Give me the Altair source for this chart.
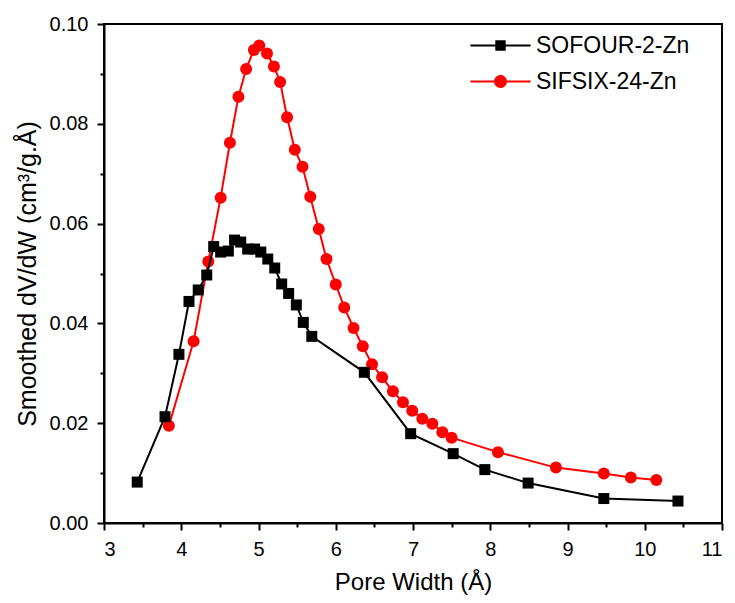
import math
import altair as alt
import pandas as pd

# ---- data ----
series_names = ["SOFOUR-2-Zn", "SIFSIX-24-Zn"]
series_colors = ["#000000", "#ff0000"]

sofour_x = [3.43, 3.79, 3.97, 4.10, 4.22, 4.33, 4.42, 4.51, 4.61, 4.69, 4.77, 4.86,
            4.95, 5.03, 5.12, 5.21, 5.30, 5.39, 5.49, 5.58, 5.69, 6.37, 6.97, 7.52,
            7.93, 8.49, 9.47, 10.43]
sofour_y = [0.0082, 0.0213, 0.0338, 0.0444, 0.0467, 0.0497, 0.0554, 0.0543, 0.0545,
            0.0567, 0.0563, 0.0549, 0.0549, 0.0543, 0.0529, 0.0511, 0.0479, 0.0460,
            0.0437, 0.0402, 0.0374, 0.0302, 0.0179, 0.0139, 0.0107, 0.0080, 0.0049,
            0.0044]

sifsix_x = [3.84, 4.16, 4.35, 4.51, 4.63, 4.74, 4.84, 4.94, 5.01, 5.11, 5.20, 5.28,
            5.37, 5.47, 5.57, 5.67, 5.78, 5.88, 6.00, 6.11, 6.23, 6.35, 6.47, 6.60,
            6.74, 6.87, 6.99, 7.12, 7.25, 7.38, 7.50, 8.10, 8.85, 9.47, 9.82, 10.15]
sifsix_y = [0.0195, 0.0364, 0.0524, 0.0652, 0.0762, 0.0854, 0.0910, 0.0948, 0.0957,
            0.0941, 0.0915, 0.0884, 0.0813, 0.0748, 0.0714, 0.0654, 0.0589, 0.0529,
            0.0478, 0.0432, 0.0391, 0.0354, 0.0318, 0.0292, 0.0264, 0.0242, 0.0225,
            0.0209, 0.0199, 0.0182, 0.0171, 0.0142, 0.0111, 0.0099, 0.0091, 0.0086]

x_ticks = [3.0, 3.5, 4.0, 4.5, 5.0, 5.5, 6.0, 6.5, 7.0, 7.5, 8.0, 8.5, 9.0, 9.5, 10.0, 10.5, 11.0]
y_ticks = [0.0, 0.01, 0.02, 0.03, 0.04, 0.05, 0.06, 0.07, 0.08, 0.09, 0.10]

FONT = "Liberation Sans"

df_black = pd.DataFrame({"x": sofour_x, "y": sofour_y, "series": series_names[0],
                         "i": range(len(sofour_x))})
df_red = pd.DataFrame({"x": sifsix_x, "y": sifsix_y, "series": series_names[1],
                       "i": range(len(sifsix_x))})
df_all = pd.concat([df_black, df_red], ignore_index=True)

# legend symbol paths (line with marker), unit = sqrt(symbolSize)/2
sq_path = "M-4.3,0H4.3M-0.6,-0.6H0.6V0.6H-0.6Z"
n = 20
pts = [(0.78 * math.cos(2 * math.pi * k / n), 0.78 * math.sin(2 * math.pi * k / n)) for k in range(n)]
ci_path = "M-4.3,0H4.3M" + "L".join(f"{px:.3f},{py:.3f}" for px, py in pts) + "Z"

legend = alt.Legend(
    title=None, orient="none", legendX=385, legendY=10,
    labelFont=FONT, labelFontSize=23, labelColor="black", labelLimit=400,
    symbolSize=196, labelOffset=24, rowPadding=12, padding=0,
    symbolOpacity=1, symbolStrokeWidth=2,
)

col_scale = alt.Scale(domain=series_names, range=series_colors)
shape_scale = alt.Scale(domain=series_names, range=[sq_path, ci_path])

xenc = alt.X("x:Q", scale=alt.Scale(domain=[3, 11], nice=False, zero=False),
             axis=alt.Axis(
                 title="Pore Width (Å)", values=x_ticks,
                 labelExpr="datum.value % 1 === 0 ? format(datum.value, 'd') : ''",
                 tickSize={"condition": {"test": "datum.value % 1 !== 0", "value": 4}, "value": 7},
                 labelPadding=9, titlePadding=11,
             ))
yenc = alt.Y("y:Q", scale=alt.Scale(domain=[0, 0.1], nice=False, zero=False),
             axis=alt.Axis(
                 title="Smoothed dV/dW (cm³/g.Å)", values=y_ticks,
                 labelExpr="round(datum.value*100) % 2 === 0 ? format(datum.value, '.2f') : ''",
                 tickSize={"condition": {"test": "round(datum.value*100) % 2 === 1", "value": 4}, "value": 7},
                 labelPadding=9, titlePadding=9, titleFontSize=25,
             ))

stroke_enc = alt.Stroke("series:N", scale=col_scale, legend=legend)
fill_enc = alt.Fill("series:N", scale=col_scale, legend=legend)
shape_enc = alt.Shape("series:N", scale=shape_scale, legend=legend)

# invisible layer that only supplies the legend symbols (line + marker)
legend_layer = alt.Chart(df_all).mark_point(filled=True, opacity=0, strokeWidth=2).encode(
    x=xenc, y=yenc, fill=fill_enc, stroke=stroke_enc, shape=shape_enc)

def line_layer(df):
    return alt.Chart(df).mark_line(strokeWidth=2).encode(
        x=xenc, y=yenc, stroke=stroke_enc, order="i:Q")

red_line = line_layer(df_red)
red_pts = alt.Chart(df_red).mark_point(shape="circle", filled=True, size=144, opacity=1).encode(
    x=xenc, y=yenc, fill=fill_enc)
black_line = line_layer(df_black)
black_pts = alt.Chart(df_black).mark_point(shape="square", filled=True, size=121, opacity=1).encode(
    x=xenc, y=yenc, fill=fill_enc)

chart = alt.layer(legend_layer, red_line, red_pts, black_line, black_pts).properties(
    width=618, height=499,
    padding={"left": 104, "top": 24, "right": 13, "bottom": 80},
    autosize=alt.AutoSizeParams(type="none"),
).configure_view(
    stroke="black", strokeWidth=2
).configure_axis(
    grid=False, domainColor="black", domainWidth=2, tickColor="black", tickWidth=2,
    labelFont=FONT, labelFontSize=20, labelColor="black",
    titleFont=FONT, titleFontSize=24, titleFontWeight="normal", titleColor="black",
)

chart.save("out.html", embed_options={"renderer": "svg", "actions": False})
